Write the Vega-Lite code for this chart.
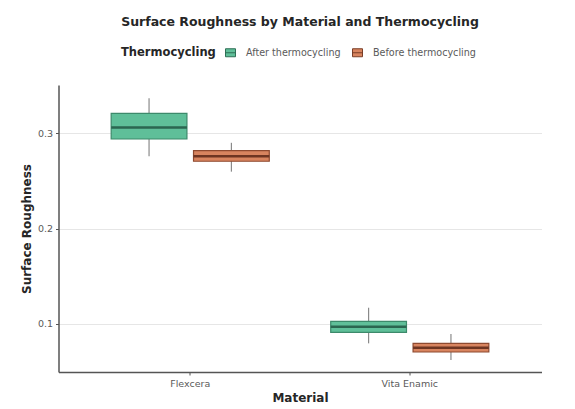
{
  "$schema": "https://vega.github.io/schema/vega-lite/v6.json",
  "width": 483,
  "height": 287,
  "autosize": {"type": "none"},
  "padding": {"left": 58.5, "top": 85, "right": 33.5, "bottom": 37},
  "background": "white",
  "title": {
    "text": "Surface Roughness by Material and Thermocycling",
    "anchor": "middle",
    "font": "DejaVu Sans",
    "fontSize": 12.5,
    "fontWeight": "bold",
    "color": "#262626",
    "offset": 19
  },
  "data": {
    "values": [
      {"Material": "Flexcera", "Thermocycling": "After thermocycling", "min": 0.276, "q1": 0.294, "median": 0.306, "q3": 0.321, "max": 0.3368},
      {"Material": "Flexcera", "Thermocycling": "Before thermocycling", "min": 0.2597, "q1": 0.2706, "median": 0.2758, "q3": 0.2817, "max": 0.290},
      {"Material": "Vita Enamic", "Thermocycling": "After thermocycling", "min": 0.0794, "q1": 0.091, "median": 0.0968, "q3": 0.1025, "max": 0.1168},
      {"Material": "Vita Enamic", "Thermocycling": "Before thermocycling", "min": 0.0619, "q1": 0.0703, "median": 0.0748, "q3": 0.0794, "max": 0.0892}
    ]
  },
  "encoding": {
    "x": {
      "field": "Material",
      "type": "nominal",
      "scale": {"paddingInner": 0, "paddingOuter": 0.1},
      "axis": {
        "title": "Material",
        "labelAngle": 0,
        "labelColor": "#5a5a5a",
        "labelFontSize": 9.5,
        "labelPadding": 3,
        "tickSize": 3,
        "tickColor": "#555555",
        "domainColor": "#555555",
        "domainWidth": 1.5,
        "titlePadding": 5,
        "grid": false
      }
    },
    "xOffset": {
      "field": "Thermocycling",
      "type": "nominal",
      "scale": {"paddingInner": 0.08, "paddingOuter": 0.373}
    },
    "y": {
      "field": "min",
      "type": "quantitative",
      "scale": {"domain": [0.0493, 0.3507], "nice": false, "zero": false},
      "axis": {
        "title": "Surface Roughness",
        "values": [0.1, 0.2, 0.3],
        "format": ".1f",
        "labelColor": "#5a5a5a",
        "labelFontSize": 9.5,
        "labelPadding": 3,
        "tickSize": 3,
        "tickColor": "#555555",
        "domainColor": "#555555",
        "domainWidth": 1.5,
        "grid": true,
        "gridColor": "#E6E6E6",
        "gridWidth": 1.2,
        "titlePadding": 4
      }
    }
  },
  "layer": [
    {
      "mark": {"type": "rule", "color": "#8a8a8a", "strokeWidth": 1.2},
      "encoding": {"y2": {"field": "max"}}
    },
    {
      "mark": {"type": "bar", "strokeWidth": 1.2},
      "encoding": {
        "y": {"field": "q1", "type": "quantitative"},
        "y2": {"field": "q3"},
        "fill": {
          "field": "Thermocycling",
          "type": "nominal",
          "scale": {"domain": ["After thermocycling", "Before thermocycling"], "range": ["#5FBF99", "#D8845F"]},
          "legend": {
            "title": "Thermocycling",
            "orient": "none",
            "legendX": 62.5,
            "legendY": -38,
            "direction": "horizontal",
            "titleOrient": "left",
            "titleFont": "DejaVu Sans",
            "titleFontSize": 11.5,
            "titleFontWeight": "bold",
            "titleColor": "#262626",
            "titlePadding": 9,
            "labelFont": "DejaVu Sans",
            "labelFontSize": 9.6,
            "labelColor": "#5a5a5a",
            "labelOffset": 10,
            "columnPadding": 9,
            "symbolType": "M-1,-0.8H1V0.8H-1Z M-1,0H1",
            "symbolSize": 100,
            "symbolStrokeWidth": 1,
            "symbolOpacity": 1,
            "encode": {
              "symbols": {
                "update": {
                  "stroke": {"signal": "datum.value === 'After thermocycling' ? '#2E6E55' : '#7A3E27'"}
                }
              }
            }
          }
        },
        "stroke": {
          "field": "Thermocycling",
          "type": "nominal",
          "scale": {"domain": ["After thermocycling", "Before thermocycling"], "range": ["#3D8A6B", "#8E4A30"]},
          "legend": null
        }
      }
    },
    {
      "mark": {"type": "bar", "strokeWidth": 2.5, "fillOpacity": 0},
      "encoding": {
        "y": {"field": "median", "type": "quantitative"},
        "y2": {"field": "median"},
        "stroke": {
          "field": "Thermocycling",
          "type": "nominal",
          "scale": {"domain": ["After thermocycling", "Before thermocycling"], "range": ["#2B6650", "#6E3522"]},
          "legend": null
        }
      }
    }
  ],
  "resolve": {"scale": {"stroke": "independent"}},
  "config": {
    "font": "DejaVu Sans",
    "view": {"stroke": null},
    "axis": {"titleFontSize": 12, "titleFontWeight": "bold", "titleColor": "#262626", "titleFont": "DejaVu Sans", "labelFont": "DejaVu Sans"}
  }
}
